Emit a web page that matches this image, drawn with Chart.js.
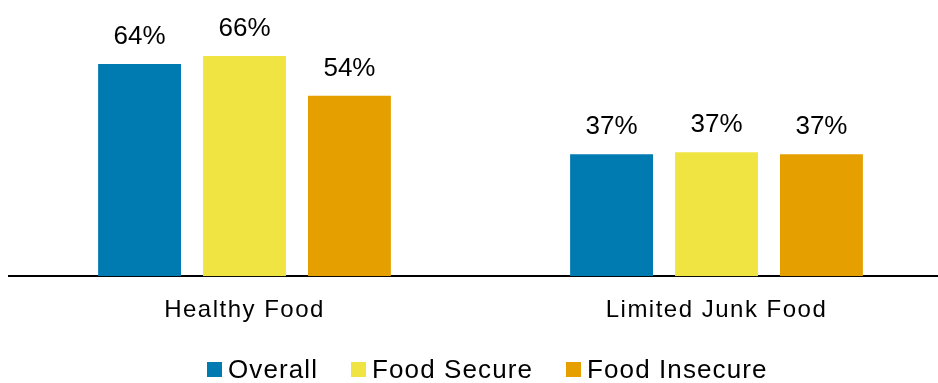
<!DOCTYPE html>
<html>
<head>
<meta charset="utf-8">
<script src="https://cdn.jsdelivr.net/npm/chart.js@4"></script>
<style>
  html, body { margin: 0; padding: 0; background: #fff; overflow: hidden; width: 938px; height: 383px; }
  #wrap { position: relative; width: 938px; height: 383px; overflow: hidden; }
  #legend { position: absolute; left: 207px; top: 356px; font: 26px "Liberation Sans", Arial, sans-serif; line-height: 26px; letter-spacing: 1.1px; color: #000; white-space: nowrap; }
  #legend .item { display: inline-block; margin-right: 33px; }
  #legend .box { display: inline-block; width: 15px; height: 15px; margin-right: 6px; position: relative; top: -1px; }
</style>
</head>
<body>
<div id="wrap">
  <canvas id="foodChart" width="953" height="383"></canvas>
  <div id="legend"></div>
</div>
<script>
// Share of respondents by food security status
const categories = ['Healthy Food', 'Limited Junk Food'];
const overall = [64, 36.8];
const foodSecure = [66.4, 37.4];
const foodInsecure = [54.4, 36.8];
const seriesNames = ['Overall', 'Food Secure', 'Food Insecure'];
const seriesColors = ['#007BB1', '#F0E442', '#E5A000'];

// draw the percent labels above each bar
const valueLabels = {
    id: 'valueLabels',
    beforeDraw(chart) {
        chart.ctx.letterSpacing = '1.5px';
    },
    beforeDatasetsDraw(chart) {
        chart.ctx.letterSpacing = '0px';
    },
    afterDatasetsDraw(chart) {
        const ctx = chart.ctx;
        ctx.save();
        ctx.font = '26px "Liberation Sans", Arial, sans-serif';
        ctx.fillStyle = '#000';
        ctx.textAlign = 'center';
        ctx.textBaseline = 'alphabetic';
        chart.data.datasets.forEach((ds, i) => {
            chart.getDatasetMeta(i).data.forEach((bar, j) => {
                ctx.fillText(Math.round(ds.data[j]) + '%', bar.x, bar.y - 20);
            });
        });
        ctx.restore();
    }
};

const ctx = document.getElementById('foodChart').getContext('2d');
new Chart(ctx, {
    type: 'bar',
    data: {
        labels: categories,
        datasets: [overall, foodSecure, foodInsecure].map((d, i) => ({
            label: seriesNames[i],
            data: d,
            backgroundColor: seriesColors[i],
            categoryPercentage: 0.667,
            barPercentage: 0.79,
        }))
    },
    options: {
        responsive: false,
        animation: false,
        layout: { padding: { top: 11, left: 8.5, right: 0.5, bottom: 38 } },
        plugins: {
            legend: { display: false },
            tooltip: { enabled: false },
        },
        scales: {
            x: {
                grid: { display: false, drawTicks: false },
                border: { display: true, color: '#000', width: 2 },
                ticks: {
                    color: '#000',
                    padding: 20,
                    font: { family: '"Liberation Sans", Arial, sans-serif', size: 24 },
                },
            },
            y: {
                display: false,
                min: 0,
                max: 80,
            }
        }
    },
    plugins: [valueLabels]
});

// legend below the chart
const legendEl = document.getElementById('legend');
seriesNames.forEach((name, i) => {
    const item = document.createElement('span');
    item.className = 'item';
    const box = document.createElement('span');
    box.className = 'box';
    box.style.background = seriesColors[i];
    item.appendChild(box);
    item.appendChild(document.createTextNode(name));
    legendEl.appendChild(item);
});
</script>
</body>
</html>
